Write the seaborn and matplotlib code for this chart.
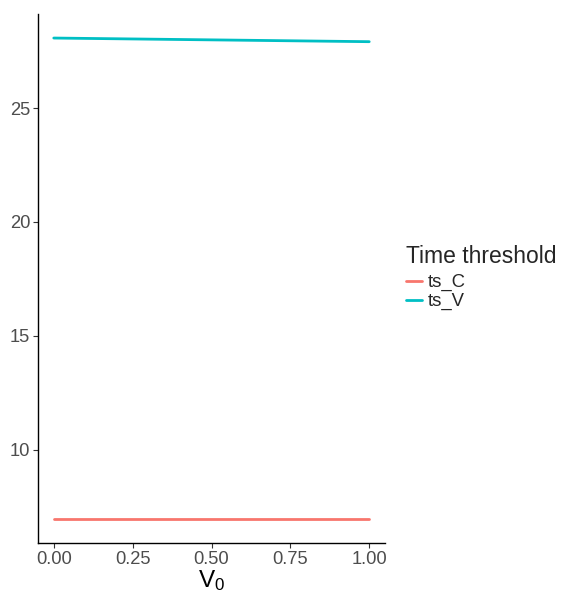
import matplotlib
matplotlib.use("Agg")
import matplotlib.pyplot as plt
import seaborn as sns
import pandas as pd

# Time thresholds as a function of the initial value V0
v0 = [0.00, 0.25, 0.50, 0.75, 1.00]
ts_c = [6.95, 6.95, 6.95, 6.95, 6.95]
ts_v = [28.08, 28.04, 28.00, 27.96, 27.92]
series_names = ["ts_C", "ts_V"]
palette = {"ts_C": "#F8766D", "ts_V": "#00BFC4"}
x_ticks = [0.00, 0.25, 0.50, 0.75, 1.00]
x_tick_labels = ["0.00", "0.25", "0.50", "0.75", "1.00"]
y_ticks = [10, 15, 20, 25]

df = pd.DataFrame({
    "V0": v0 * 2,
    "value": ts_c + ts_v,
    "Time threshold": [series_names[0]] * len(v0) + [series_names[1]] * len(v0),
})

sns.set_style("white")
plt.rcParams["font.family"] = ["Liberation Sans", "DejaVu Sans"]
plt.rcParams["mathtext.fontset"] = "custom"
plt.rcParams["mathtext.rm"] = "Liberation Sans"

fig = plt.figure(figsize=(5.66, 5.94), dpi=100)
ax = fig.add_axes([38 / 566, 51 / 594, (385 - 38) / 566, (543 - 14) / 594])

sns.lineplot(data=df, x="V0", y="value", hue="Time threshold",
             palette=palette, linewidth=2.0, ax=ax, legend=True)

lo_x, hi_x = min(v0), max(v0)
pad_x = (hi_x - lo_x) * 0.05
ax.set_xlim(lo_x - pad_x, hi_x + pad_x)
all_y = ts_c + ts_v
lo_y, hi_y = min(all_y), max(all_y)
pad_y = (hi_y - lo_y) * 0.05
ax.set_ylim(lo_y - pad_y, hi_y + pad_y)

ax.set_xticks(x_ticks)
ax.set_xticklabels(x_tick_labels)
ax.set_yticks(y_ticks)
ax.tick_params(axis="both", which="major", length=3.5, width=0.8,
               color="#333333", labelcolor="#4D4D4D", labelsize=13.2, pad=2,
               bottom=True, left=True)

for side in ["top", "right"]:
    ax.spines[side].set_visible(False)
for side in ["left", "bottom"]:
    ax.spines[side].set_color("black")
    ax.spines[side].set_linewidth(1.0)

ax.set_xlabel(r"$\mathregular{V_0}$", fontsize=17.5, color="black", labelpad=0)
ax.set_ylabel("")

handles, labels = ax.get_legend_handles_labels()
ax.get_legend().remove()
leg = fig.legend(handles, labels, title="Time threshold",
                 loc="upper left", bbox_to_anchor=(404 / 566, 1 - 243 / 594),
                 frameon=False, fontsize=13.3, title_fontsize=16.5,
                 handlelength=0.9, handletextpad=0.3, labelspacing=0.1,
                 borderpad=0.1, borderaxespad=0)
leg._legend_box.align = "left"
leg._legend_box.sep = 4.5

fig.savefig("out.png", dpi=100)
